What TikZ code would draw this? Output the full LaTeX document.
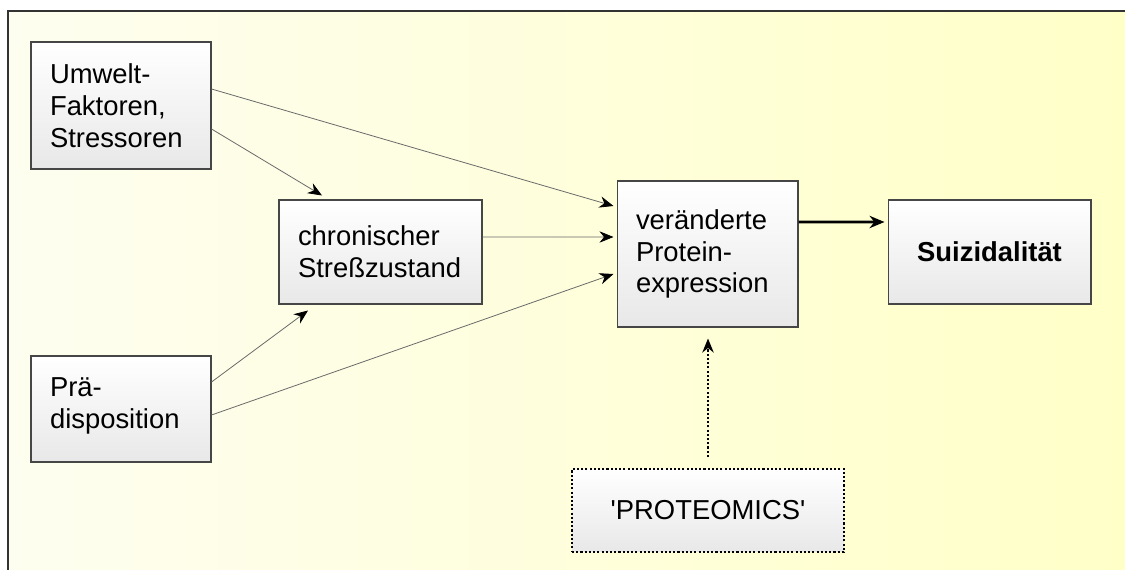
\documentclass[tikz,border=0pt]{standalone}
\usepackage{fontspec}
\setmainfont{Liberation Sans}
\usetikzlibrary{arrows.meta,positioning}
\definecolor{bgleft}{RGB}{254,254,240}
\definecolor{bgright}{RGB}{255,255,200}
\definecolor{boxline}{RGB}{70,70,70}
\definecolor{boxbottom}{RGB}{232,232,232}
\definecolor{linegray}{RGB}{105,105,105}
\tikzset{
    factor/.style={draw=boxline, line width=0.6pt, top color=white, bottom color=boxbottom,
                   align=left, inner xsep=0.38cm, inner ysep=0pt,
                   font=\fontsize{15.6}{18.1}\selectfont},
    edge/.style={draw=linegray, line width=0.45pt, -{Stealth[length=8pt, width=6.5pt, black]}},
    mainedge/.style={draw, line width=1.7pt, -{Stealth[length=8.5pt, width=7pt]}},
    probeedge/.style={draw, line width=1.2pt, dash pattern=on 1.2pt off 1.2pt,
                      -{Stealth[length=8pt, width=6.5pt]}}
}

\begin{document}
\begin{tikzpicture}[x=0.02cm, y=-0.02cm]
    \useasboundingbox (0,0) rectangle (1125,570);
    % background panel
    \fill[left color=bgleft, right color=bgright] (8,11) rectangle (1125,570);
    \draw[line width=1.3pt, black!80] (8,570) -- (8,11) -- (1125,11);

    % Nodes
    \node[factor, text width=2.84cm, minimum height=2.54cm] (umwelt) at (121,105.5) {Umwelt-\\Faktoren,\\Stressoren};
    \node[factor, text width=2.84cm, minimum height=2.12cm] (praed) at (121,409) {Prä-\\disposition\\[-0.4cm]\mbox{}};
    \node[factor, text width=3.3cm, minimum height=2.08cm] (chron) at (380.5,252) {chronischer\\Streßzustand};
    \node[factor, text width=2.86cm, minimum height=2.92cm] (protein) at (707.5,254) {veränderte\\Protein-\\expression};
    \node[factor, text width=3.3cm, minimum height=2.08cm, align=center,
          font=\fontsize{15.6}{18.1}\selectfont\bfseries] (suizid) at (989.5,252) {Suizidalität};
    \node[factor, text width=4.68cm, minimum height=1.66cm, align=center, draw=black,
          line width=1.2pt, dash pattern=on 1.2pt off 1.2pt] (proteomics) at (708,510.5)
          {\textquotesingle PROTEOMICS\textquotesingle};

    % edges
    \draw[edge] ([yshift=0.33cm]umwelt.east) -- ([yshift=0.96cm, xshift=-0.06cm]protein.west);
    \draw[edge] ([yshift=-0.47cm]umwelt.east) -- ([xshift=-1.17cm, yshift=0.08cm]chron.north);
    \draw[edge] ([yshift=0.54cm]praed.east) -- ([xshift=-1.45cm, yshift=-0.12cm]chron.south);
    \draw[edge] ([yshift=-0.12cm]praed.east) -- ([yshift=-0.4cm, xshift=-0.06cm]protein.west);
    \draw[edge] ([yshift=0.3cm]chron.east) -- ([yshift=0.34cm, xshift=-0.06cm]protein.west);
    \draw[mainedge] ([yshift=0.64cm]protein.east) -- ([yshift=0.6cm, xshift=-0.06cm]suizid.west);
    \draw[probeedge, shorten >=0.22cm, shorten <=0.22cm] (proteomics.north) -- (proteomics.north |- protein.south);
\end{tikzpicture}
\end{document}
